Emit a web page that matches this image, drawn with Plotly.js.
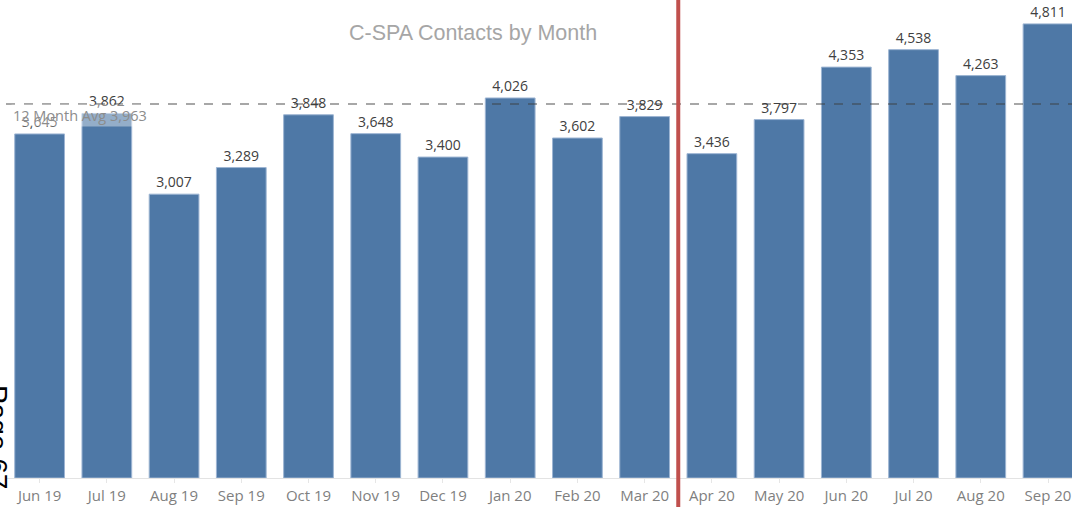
<!DOCTYPE html>
<html>
<head>
<meta charset="utf-8">
<script src="https://cdn.plot.ly/plotly-3.0.1.min.js"></script>
<style>html,body{margin:0;padding:0;background:#fff;}#chart{width:1072px;height:507px;}</style>
</head>
<body>
<div id="chart"></div>
<script>
const months = ["Jun 19","Jul 19","Aug 19","Sep 19","Oct 19","Nov 19","Dec 19","Jan 20","Feb 20","Mar 20","Apr 20","May 20","Jun 20","Jul 20","Aug 20","Sep 20"];
const contacts = [3645,3862,3007,3289,3848,3648,3400,4026,3602,3829,3436,3797,4353,4538,4263,4811];
const avgValue = 3963;
const avgLabel = "12 Month Avg 3,963";
const chartTitle = "C-SPA Contacts by Month";
const dividerPosition = 9.5;
const pageText = "Page 67";

const labelFont = "'Open Sans', 'Noto Sans', sans-serif";

const trace = {
  type: 'bar',
  x: months.map((m,i)=>i),
  y: contacts,
  marker: {color: '#4e78a6', line: {color: '#9db5d3', width: 1}},
  text: contacts.map(v => v.toLocaleString('en-US')),
  textposition: 'outside',
  cliponaxis: false,
  textfont: {family: labelFont, size: 14, color: '#404040'},
  width: 0.74,
  hoverinfo: 'skip'
};

const layout = {
  width: 1072, height: 507,
  margin: {l: 6, r: 0, t: 0, b: 29},
  paper_bgcolor: '#ffffff', plot_bgcolor: '#ffffff',
  showlegend: false,
  xaxis: {
    range: [-0.5, 15.357],
    tickmode: 'array',
    tickvals: months.map((m,i)=>i),
    ticktext: months,
    tickfont: {family: labelFont, size: 15, color: '#7f7f7f'},
    showgrid: false, zeroline: false,
    showline: true, linecolor: '#e3e3e3', linewidth: 1,
    ticks: 'outside', ticklen: 4, tickcolor: '#e6e6e6', tickson: 'boundaries',
    fixedrange: true
  },
  yaxis: {
    range: [0, 5064],
    visible: false, showgrid: false, zeroline: false, fixedrange: true
  },
  shapes: [
    {type: 'line', xref: 'paper', yref: 'y', x0: 0, x1: 1, y0: avgValue, y1: avgValue,
     line: {color: 'rgba(60,60,60,0.45)', width: 2, dash: 'dash'}, layer: 'above'},
    {type: 'line', xref: 'x', yref: 'paper', x0: dividerPosition, x1: dividerPosition, y0: -0.07, y1: 1.0,
     line: {color: '#c0504d', width: 4}, layer: 'above'}
  ],
  annotations: [
    {text: chartTitle, xref: 'paper', yref: 'paper', x: (473-6)/1066, y: (478-33)/478,
     xanchor: 'center', yanchor: 'middle', showarrow: false,
     font: {family: "'Liberation Sans', Arial, sans-serif", size: 21.5, color: '#a6a6a6'}},
    {text: avgLabel, xref: 'paper', yref: 'paper', x: (11-6)/1066, y: (478-115)/478,
     xanchor: 'left', yanchor: 'middle', showarrow: false,
     bgcolor: 'rgba(255,255,255,0.4)', borderpad: 1,
     font: {family: labelFont, size: 14.5, color: '#8c8c8c'}},
    {text: pageText, xref: 'paper', yref: 'paper', x: (-2-6)/1066, y: (478-383)/478,
     xanchor: 'center', yanchor: 'top', textangle: 90, showarrow: false,
     font: {family: "'Liberation Sans', Arial, sans-serif", size: 28, color: '#000000'}}
  ]
};

Plotly.newPlot('chart', [trace], layout, {displayModeBar: false, staticPlot: true});
</script>
</body>
</html>
